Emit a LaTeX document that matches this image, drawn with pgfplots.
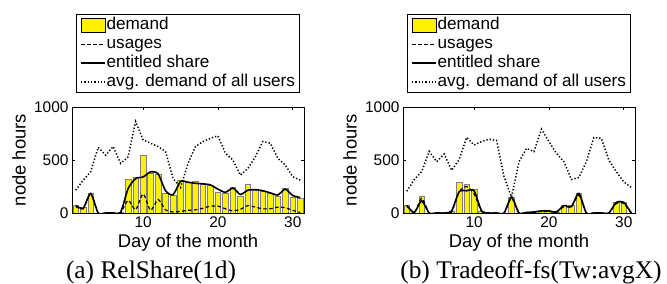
\documentclass[border=0pt]{standalone}
\usepackage{pgfplots}
\pgfplotsset{compat=1.18}
\usepackage{pgfplotstable}
\usepackage{fontspec}
\setmainfont{Liberation Sans}
\newfontfamily\capfont{Liberation Serif}

\pgfplotstableread{
day demand usage share avg
1 75 60 70 215
2 52 40 45 310
3 185 180 185 390
4 0 0 0 620
5 0 0 0 545
6 0 0 0 627
7 5 5 8 468
8 316 120 230 530
9 335 30 325 864
10 547 180 340 690
11 375 25 388 658
12 367 128 370 627
13 183 30 210 580
14 168 10 172 326
15 310 15 298 240
16 294 25 290 468
17 300 30 280 627
18 269 45 275 674
19 262 65 265 705
20 193 65 225 728
21 184 40 195 563
22 240 20 235 500
23 158 35 175 357
24 272 70 215 420
25 215 55 220 530
26 200 40 210 674
27 184 40 190 658
28 158 55 170 516
29 231 50 225 452
30 152 25 165 342
31 142 5 145 310
}\dataA

\pgfplotstableread{
day demand usage share avg
1 73 70 72 205
2 0 0 5 315
3 158 140 115 390
4 0 0 0 582
5 0 0 0 484
6 0 0 0 557
7 15 10 20 402
8 288 200 200 505
9 272 250 210 713
10 225 180 210 642
11 20 15 20 674
12 0 0 0 696
13 0 0 0 684
14 0 0 0 342
15 152 140 150 150
16 0 0 0 484
17 8 5 5 610
18 10 8 10 579
19 20 15 20 791
20 20 15 20 674
21 10 8 10 563
22 73 60 70 484
23 73 60 60 316
24 184 170 185 335
25 0 0 0 484
26 0 0 0 712
27 0 0 0 705
28 0 0 0 500
29 104 90 100 390
30 100 90 100 294
31 0 0 0 240
}\dataB

\pgfplotsset{
 myax/.style={
  scale only axis, width=232bp, height=106bp,
  xmin=0.5, xmax=31.5, ymin=0, ymax=1000,
  xtick={10,20,30}, ytick={0,500,1000},
  tick align=inside, major tick length=3bp,
  tick style={black, line width=0.6bp},
  tick label style={font=\fontsize{15.5}{18}\selectfont},
  /pgf/number format/assume math mode=true,
  scaled y ticks=false,
  /pgf/number format/1000 sep={},
  xlabel={Day of the month}, ylabel={node hours},
  every axis x label/.style={at={(axis description cs:0.5,-0.33)}, anchor=base, font=\fontsize{18.5}{20}\selectfont},
  every axis y label/.style={at={(axis description cs:-0.2284,0.5)}, rotate=90, anchor=center, font=\fontsize{18.5}{20}\selectfont},
  axis line style={line width=0.8bp},
  legend style={at={(0.5,1.132)}, anchor=south, font=\fontsize{17.2}{20}\selectfont, draw=black, line width=0.8bp, inner xsep=3.5bp, inner ysep=1bp, row sep=0pt, column sep=0pt, nodes={text height=12bp, text depth=4bp, inner xsep=0.8bp, inner ysep=1.5bp}},
  legend cell align=left,
  legend image code/.code={\path[draw=none,fill=none] (0bp,-7bp) rectangle (24bp,7bp); \draw[#1] (0bp,0bp) -- (24bp,0bp);},
 },
 barst/.style={ybar, bar width=0.75, fill=yellow, draw=gray, line width=0.6bp,
   legend image code/.code={\draw[fill=yellow, draw=black, line width=0.6bp] (0bp,-7bp) rectangle (24bp,7bp);}},
 usest/.style={black, line width=1.2bp, dash pattern=on 3.5bp off 2.5bp, smooth, tension=0.4},
 sharest/.style={black, line width=1.6bp, smooth, tension=0.4},
 avgst/.style={black, line width=1.5bp, dash pattern=on 1.3bp off 2bp},
}

\begin{document}
\begin{tikzpicture}
\useasboundingbox (0,0) rectangle (667bp,284bp);
\begin{axis}[myax, at={(72bp,71bp)}, anchor=south west]
\addplot[barst] table[x=day,y=demand]{\dataA};
\addlegendentry{demand}
\addplot[usest] table[x=day,y=usage]{\dataA};
\addlegendentry{usages}
\addplot[sharest] table[x=day,y=share]{\dataA};
\addlegendentry{entitled share}
\addplot[avgst] table[x=day,y=avg]{\dataA};
\addlegendentry{avg. demand of all users}
\end{axis}
\begin{axis}[myax, at={(403bp,71bp)}, anchor=south west]
\addplot[barst] table[x=day,y=demand]{\dataB};
\addlegendentry{demand}
\addplot[usest] table[x=day,y=usage]{\dataB};
\addlegendentry{usages}
\addplot[sharest] table[x=day,y=share]{\dataB};
\addlegendentry{entitled share}
\addplot[avgst] table[x=day,y=avg]{\dataB};
\addlegendentry{avg. demand of all users}
\end{axis}
\node[font=\capfont\fontsize{25.5}{28}\selectfont, anchor=base] at (151bp,6bp) {(a) RelShare(1d)};
\node[font=\capfont\fontsize{25.5}{28}\selectfont, anchor=base] at (531bp,6bp) {(b) Tradeoff-fs(Tw:avgX)};
\end{tikzpicture}
\end{document}
